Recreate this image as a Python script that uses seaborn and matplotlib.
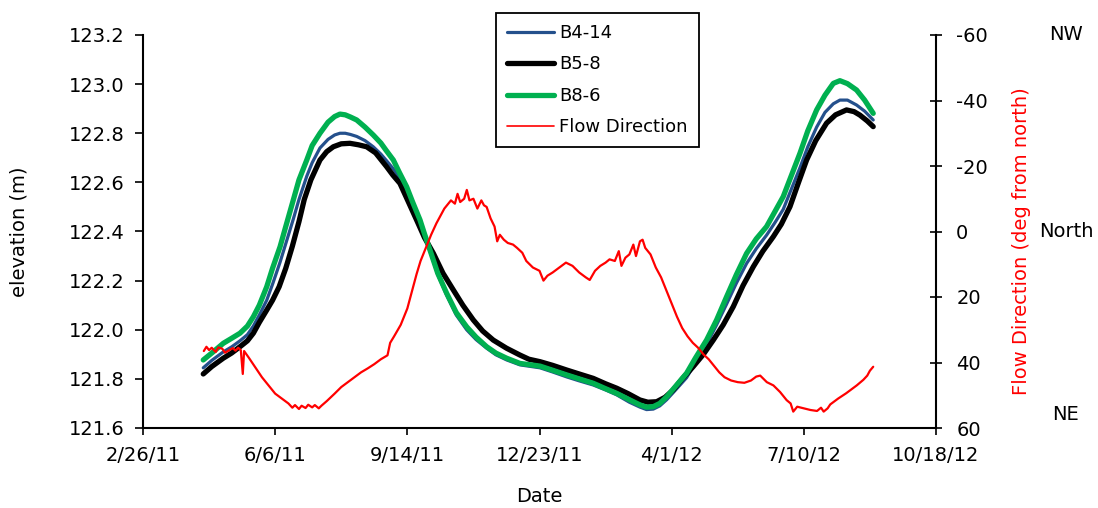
import numpy as np
import pandas as pd
import matplotlib
matplotlib.use("Agg")
import matplotlib.pyplot as plt
import seaborn as sns
from matplotlib.lines import Line2D

# ---------------- data (days since 2011-02-26) ----------------
START = pd.Timestamp("2011-02-26")

green_days = [45.6, 52, 60.8, 67, 73.4, 79, 83.5, 88, 93.6, 98, 103.7, 108, 113.7, 118, 123.9, 128,
              133.9, 140, 145, 149, 153, 157, 161.7, 168, 174.2, 180, 184, 189.4, 194, 199.5, 204,
              209.6, 213, 217.1, 223, 229.8, 237, 244.9, 252, 260, 267, 275.2, 285.2, 300.4, 310,
              320.6, 330, 340.7, 350, 358.4, 368, 376, 381, 386.1, 391, 396.2, 403, 411.3, 418,
              426.4, 434, 441.6, 449, 456.7, 464, 471.8, 478, 484.4, 490, 497.1, 503, 509.7, 516,
              522.3, 527.3, 533, 539.9, 546, 552.5]
green_elev = [121.877, 121.905, 121.945, 121.965, 121.986, 122.015, 122.053, 122.10, 122.175, 122.25,
              122.338, 122.42, 122.528, 122.61, 122.691, 122.75, 122.80, 122.845, 122.868, 122.878,
              122.875, 122.866, 122.854, 122.825, 122.793, 122.76, 122.73, 122.691, 122.64, 122.582,
              122.52, 122.447, 122.39, 122.325, 122.23, 122.148, 122.07, 122.012, 121.97, 121.931,
              121.905, 121.884, 121.863, 121.852, 121.835, 121.816, 121.80, 121.782, 121.76, 121.741,
              121.715, 121.694, 121.685, 121.687, 121.70, 121.727, 121.77, 121.823, 121.885, 121.958,
              122.04, 122.135, 122.225, 122.311, 122.37, 122.42, 122.48, 122.542, 122.62, 122.719,
              122.81, 122.895, 122.955, 123.003, 123.014, 123.002, 122.976, 122.935, 122.881]

blue_days = green_days
blue_elev = [121.845, 121.875, 121.91, 121.93, 121.955, 121.98, 122.015, 122.06, 122.12, 122.185,
             122.275, 122.35, 122.45, 122.53, 122.625, 122.68, 122.74, 122.775, 122.793, 122.80,
             122.80, 122.795, 122.787, 122.77, 122.745, 122.715, 122.69, 122.655, 122.62, 122.575,
             122.515, 122.445, 122.385, 122.32, 122.225, 122.14, 122.06, 122.0, 121.96, 121.925,
             121.898, 121.877, 121.857, 121.845, 121.828, 121.808, 121.792, 121.775, 121.755, 121.735,
             121.705, 121.685, 121.675, 121.677, 121.69, 121.715, 121.755, 121.805, 121.865, 121.94,
             122.02, 122.105, 122.19, 122.27, 122.33, 122.385, 122.435, 122.49, 122.565, 122.66,
             122.745, 122.825, 122.885, 122.92, 122.935, 122.935, 122.915, 122.89, 122.854]

black_days = [45.6, 52, 60.7, 67, 73.4, 79, 83.5, 88, 93.6, 98, 103, 108, 113, 118, 122, 127, 133.9,
              139, 144, 150, 156.6, 163, 169.2, 176, 184.3, 189, 194.4, 200, 207, 213, 219.7, 227,
              234.8, 242, 249.9, 257, 265, 275, 285.2, 292, 300.4, 310, 320.6, 330, 340.7, 350,
              358.4, 367, 376, 382, 388.6, 395, 401.2, 408, 416.3, 424, 431.5, 439, 446.6, 454,
              461.8, 469, 476.9, 483, 489.5, 496, 502.1, 509, 517.2, 524, 532.3, 538, 542.4, 548,
              552.5]
black_elev = [121.820, 121.85, 121.884, 121.905, 121.931, 121.955, 121.986, 122.03, 122.08, 122.12,
              122.175, 122.25, 122.34, 122.44, 122.53, 122.61, 122.691, 122.725, 122.745, 122.757,
              122.759, 122.753, 122.745, 122.72, 122.664, 122.63, 122.596, 122.53, 122.447, 122.375,
              122.311, 122.23, 122.162, 122.10, 122.040, 121.995, 121.958, 121.925, 121.897, 121.88,
              121.870, 121.855, 121.836, 121.82, 121.802, 121.78, 121.762, 121.74, 121.714, 121.705,
              121.707, 121.725, 121.755, 121.80, 121.85, 121.90, 121.958, 122.02, 122.094, 122.18,
              122.257, 122.32, 122.379, 122.43, 122.501, 122.60, 122.691, 122.77, 122.841, 122.875,
              122.895, 122.888, 122.874, 122.85, 122.827]

flow_days = [46, 48, 50, 52, 55, 57, 60, 62, 65, 68, 70, 72, 74, 75.5, 76.5, 80, 85, 90, 95, 100, 105,
             110, 113, 115, 118, 120, 123, 125, 128, 130, 133, 135, 139, 145, 150, 155, 160, 165, 170,
             175, 180, 185, 187, 190, 195, 200, 204, 207, 210, 214, 218, 222, 226, 228, 230, 233,
             236, 238, 240, 243, 245, 247, 250, 253, 256, 258, 260, 263, 266, 268, 270, 273, 276,
             280, 283, 287, 290, 295, 300, 303, 306, 310, 315, 320, 325, 330, 335, 338, 342, 346,
             350, 353, 357, 360, 362, 365, 368, 371, 373, 376, 378, 380, 384, 388, 392, 396, 400,
             404, 408, 412, 416, 420, 424, 428, 432, 436, 440, 445, 450, 455, 460, 464, 467, 472,
             477, 482, 487, 490, 492, 495, 500, 505, 510, 513, 515, 518, 520, 526, 532, 536, 540,
             545, 548, 550, 552.5]
flow_dir = [36.5, 35.2, 36.2, 35.5, 36.8, 35.4, 35.8, 37.0, 36.3, 35.6, 36.4, 35.5, 36.2, 43.5, 36.5,
            38.5, 41.5, 44.5, 47.0, 49.5, 51.0, 52.5, 53.8, 53.0, 54.2, 53.2, 53.9, 52.9, 53.7, 53.0,
            54.0, 53.2, 51.8, 49.5, 47.5, 46.0, 44.5, 43.0, 41.8, 40.5, 39.0, 37.8, 34.0, 32.0, 28.5,
            23.5, 17.5, 13.0, 9.0, 5.0, 1.0, -2.5, -5.5, -7.0, -8.0, -9.5, -8.5, -11.5, -9.0, -10.0,
            -12.7, -9.5, -10.0, -7.0, -9.5, -8.0, -7.5, -4.0, -1.5, 3.0, 1.0, 2.5, 3.5, 4.0, 5.0, 6.5,
            9.0, 11.0, 12.0, 15.0, 13.5, 12.5, 11.0, 9.5, 10.5, 12.5, 14.0, 14.8, 12.0, 10.5, 9.5,
            8.5, 9.0, 6.0, 10.5, 8.0, 7.0, 4.0, 7.5, 3.0, 2.5, 5.0, 7.0, 11.0, 14.0, 18.0, 22.0, 26.0,
            29.5, 32.0, 34.0, 35.5, 37.5, 39.0, 41.0, 43.0, 44.5, 45.5, 46.0, 46.2, 45.5, 44.3, 44.0,
            46.0, 47.0, 49.0, 51.5, 52.5, 55.0, 53.5, 54.0, 54.5, 54.8, 53.8, 55.0, 54.0, 52.8, 51.0,
            49.4, 48.2, 47.0, 45.3, 44.0, 42.5, 41.3]

tick_dates = ["2011-02-26", "2011-06-06", "2011-09-14", "2011-12-23", "2012-04-01", "2012-07-10", "2012-10-18"]
tick_labels = ["2/26/11", "6/6/11", "9/14/11", "12/23/11", "4/1/12", "7/10/12", "10/18/12"]
elev_ticks = [121.6, 121.8, 122.0, 122.2, 122.4, 122.6, 122.8, 123.0, 123.2]
flow_ticks = [-60, -40, -20, 0, 20, 40, 60]

# ---------------- figure ----------------
sns.set_style("white")
plt.rcParams["font.family"] = ["DejaVu Sans"]
plt.rcParams["text.color"] = "black"
plt.rcParams["axes.labelcolor"] = "black"
plt.rcParams["xtick.color"] = "black"
plt.rcParams["ytick.color"] = "black"
FS = 14

W, H = 1098, 508
fig = plt.figure(figsize=(W / 100, H / 100), dpi=100)
L, R, T, B = 143, 936, 35, 428
ax = fig.add_axes([L / W, 1 - B / H, (R - L) / W, (B - T) / H])

def to_dates(d):
    return START + pd.to_timedelta(np.asarray(d, dtype=float), unit="D")

series = [
    ("B4-14", blue_days, blue_elev, "#24508C", 2.3),
    ("B5-8", black_days, black_elev, "#000000", 3.8),
    ("B8-6", green_days, green_elev, "#00B050", 3.8),
]
handles = []
for name, d, e, c, lw in series:
    sns.lineplot(x=to_dates(d), y=e, ax=ax, color=c, linewidth=lw, sort=False,
                 estimator=None, solid_capstyle="round")
    handles.append(Line2D([], [], color=c, linewidth=lw, label=name))

ax2 = ax.twinx()
sns.lineplot(x=to_dates(flow_days), y=flow_dir, ax=ax2, color="#FF0000", linewidth=1.6,
             sort=False, estimator=None)
handles.append(Line2D([], [], color="#FF0000", linewidth=1.2, label="Flow Direction"))

# axes limits & ticks
ax.set_xlim(pd.Timestamp(tick_dates[0]), pd.Timestamp(tick_dates[-1]))
ax.set_xticks(pd.to_datetime(tick_dates))
ax.set_xticklabels(tick_labels, fontsize=FS)
ax.set_ylim(121.6, 123.2)
ax.set_yticks(elev_ticks)
ax.set_yticklabels([f"{v:.1f}" for v in elev_ticks], fontsize=FS)
ax2.set_ylim(60, -60)
ax2.set_yticks(flow_ticks)
ax2.set_yticklabels([str(v) for v in flow_ticks], fontsize=FS)

for s in ["top", "right"]:
    ax.spines[s].set_visible(False)
for s in ["top", "left", "bottom"]:
    ax2.spines[s].set_visible(False)
for a in (ax, ax2):
    for s in a.spines.values():
        s.set_color("black")
        s.set_linewidth(1.5)
ax.grid(False)
ax2.grid(False)

ax.tick_params(axis="y", direction="out", length=6, width=1.2, pad=7, colors="black", left=True)
ax.tick_params(axis="x", direction="out", length=5, width=1.2, pad=8, colors="black", bottom=True)
ax2.tick_params(axis="y", direction="inout", length=9, width=1.2, pad=10, colors="black", right=True)

ax.set_xlabel("Date", fontsize=FS)
ax.xaxis.set_label_coords(0.5, -0.15)
ax.set_ylabel("elevation (m)", fontsize=FS)
ax.yaxis.set_label_coords(-0.145, 0.5)
ax2.set_xlabel("")
ax2.set_ylabel("Flow Direction (deg from north)", fontsize=FS, color="#FF0000")
ax2.yaxis.set_label_coords(1.096, 0.475)

for txt, yp in [("NW", 35), ("North", 231), ("NE", 414)]:
    fig.text(1066 / W, 1 - yp / H, txt, ha="center", va="center", fontsize=FS)

for a in (ax, ax2):
    if a.get_legend() is not None:
        a.get_legend().remove()
leg = fig.legend(handles=handles, loc="upper left", bbox_to_anchor=(496 / W, 1 - 13 / H),
                 fontsize=13, frameon=True, fancybox=False, framealpha=1, edgecolor="black",
                 handlelength=2.6, handletextpad=0.3, labelspacing=0.75, borderpad=0.6,
                 borderaxespad=0)
leg.get_frame().set_linewidth(1.3)

fig.savefig("out.png", dpi=100)
